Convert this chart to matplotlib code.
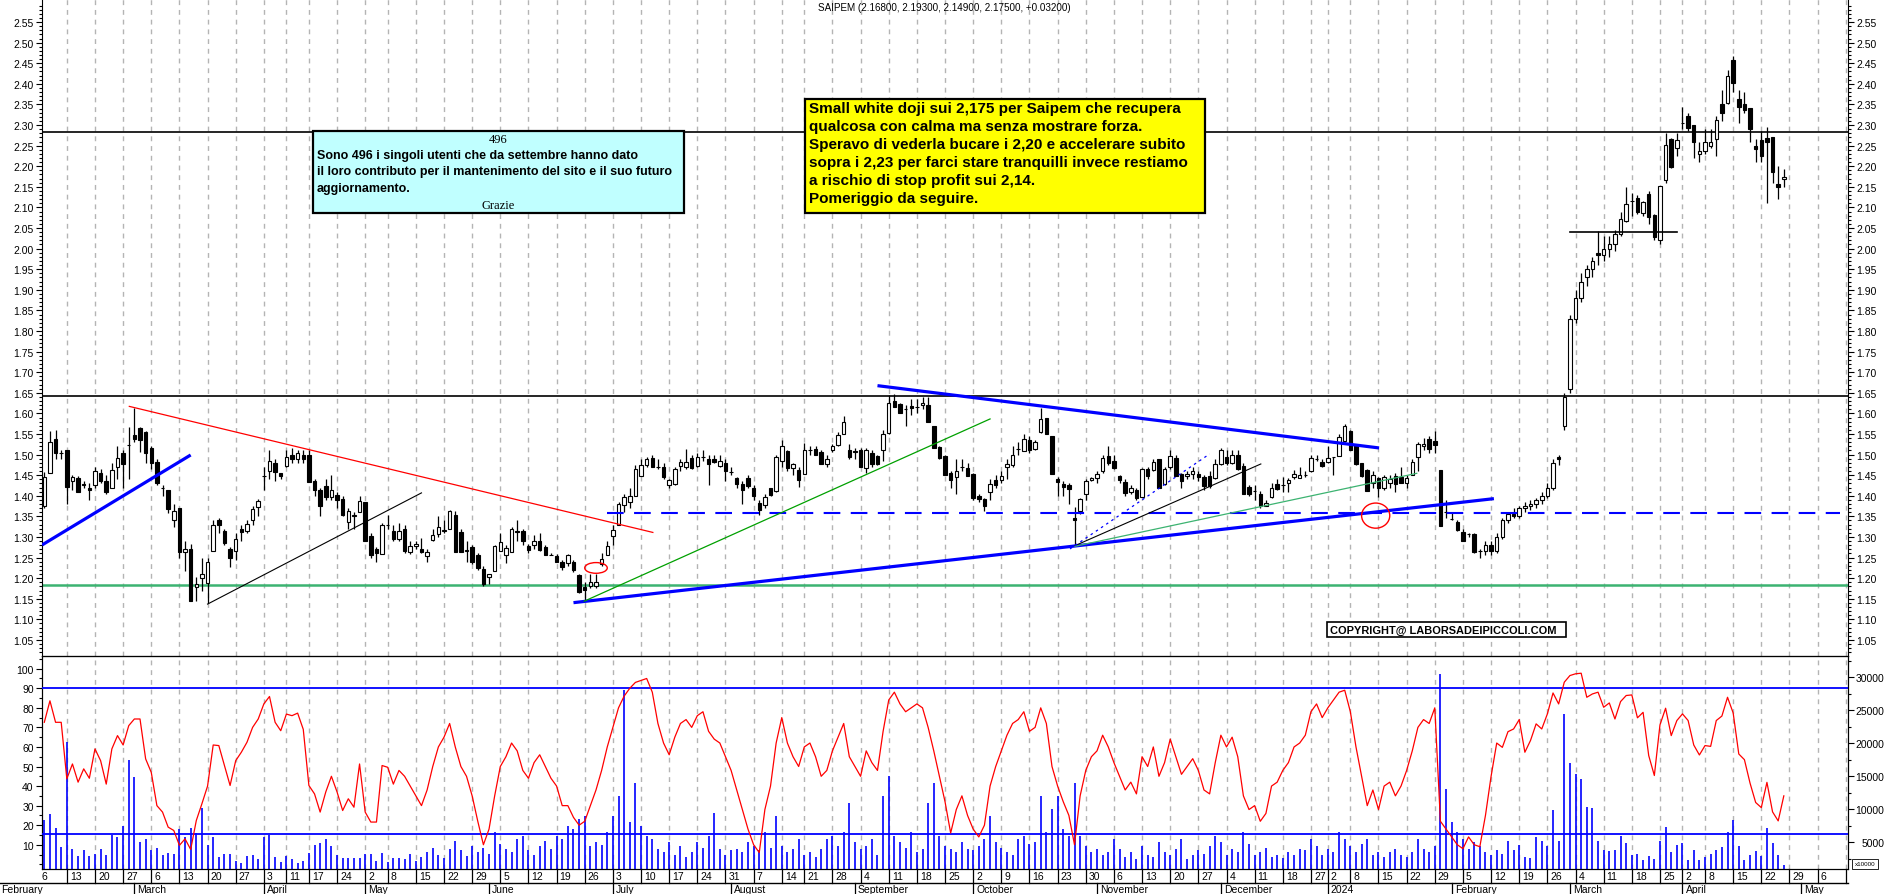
import numpy as np
import matplotlib
matplotlib.use("Agg")
import matplotlib.pyplot as plt
import matplotlib.transforms as mtrans
from matplotlib.patches import Ellipse, Rectangle
from matplotlib.lines import Line2D

W, H = 1890, 895
plt.rcParams["font.family"] = ["Liberation Sans", "DejaVu Sans"]

# --- calendario di borsa (chiusure infrasettimanali) ---
holidays = ["2023-04-07", "2023-04-10", "2023-05-01", "2023-08-15",
            "2023-12-25", "2023-12-26", "2024-01-01", "2024-03-29", "2024-04-01"]
first_day = "2023-02-07"
last_day = "2024-04-26"

# --- SAIPEM, candele giornaliere ---
opens = [
    1.376, 1.455, 1.538, 1.505, 1.511, 1.437, 1.443, 1.428, 1.420, 1.425,
    1.455, 1.437, 1.420, 1.469, 1.504, 1.523, 1.548, 1.565, 1.556, 1.516,
    1.481, 1.420, 1.414, 1.340, 1.370, 1.263, 1.271, 1.178, 1.200, 1.188,
    1.267, 1.342, 1.314, 1.271, 1.267, 1.319, 1.315, 1.340, 1.372, 1.447,
    1.461, 1.479, 1.455, 1.473, 1.500, 1.489, 1.500, 1.500, 1.435, 1.414,
    1.423, 1.396, 1.402, 1.392, 1.336, 1.352, 1.360, 1.384, 1.303, 1.270,
    1.259, 1.328, 1.314, 1.295, 1.319, 1.263, 1.279, 1.270, 1.253, 1.293,
    1.306, 1.315, 1.319, 1.354, 1.311, 1.267, 1.275, 1.255, 1.222, 1.202,
    1.218, 1.267, 1.255, 1.264, 1.315, 1.314, 1.279, 1.281, 1.290, 1.275,
    1.257, 1.253, 1.239, 1.236, 1.239, 1.208, 1.178, 1.180, 1.180, 1.235,
    1.257, 1.303, 1.330, 1.378, 1.384, 1.399, 1.447, 1.475, 1.492, 1.469,
    1.471, 1.425, 1.429, 1.472, 1.469, 1.492, 1.473, 1.493, 1.490, 1.490,
    1.472, 1.479, 1.457, 1.442, 1.429, 1.442, 1.420, 1.382, 1.378, 1.420,
    1.411, 1.485, 1.508, 1.468, 1.463, 1.453, 1.511, 1.513, 1.507, 1.476,
    1.512, 1.523, 1.550, 1.510, 1.509, 1.512, 1.467, 1.504, 1.496, 1.510,
    1.552, 1.629, 1.623, 1.611, 1.617, 1.616, 1.620, 1.621, 1.569, 1.518,
    1.496, 1.455, 1.445, 1.471, 1.467, 1.453, 1.400, 1.392, 1.408, 1.438,
    1.438, 1.469, 1.475, 1.514, 1.508, 1.536, 1.514, 1.554, 1.589, 1.546,
    1.441, 1.429, 1.425, 1.345, 1.364, 1.404, 1.438, 1.442, 1.460, 1.497,
    1.485, 1.447, 1.433, 1.410, 1.414, 1.396, 1.465, 1.463, 1.489, 1.429,
    1.469, 1.491, 1.452, 1.447, 1.452, 1.453, 1.445, 1.449, 1.442, 1.477,
    1.495, 1.480, 1.500, 1.473, 1.422, 1.412, 1.404, 1.376, 1.398, 1.429,
    1.425, 1.430, 1.445, 1.442, 1.450, 1.459, 1.489, 1.481, 1.481, 1.493,
    1.497, 1.534, 1.558, 1.523, 1.479, 1.463, 1.431, 1.443, 1.420, 1.431,
    1.449, 1.445, 1.431, 1.450, 1.493, 1.522, 1.538, 1.532, 1.463, 1.360,
    1.344, 1.336, 1.313, 1.307, 1.307, 1.267, 1.267, 1.280, 1.265, 1.300,
    1.340, 1.355, 1.350, 1.370, 1.375, 1.380, 1.390, 1.400, 1.420, 1.495,
    1.570, 1.660, 1.830, 1.880, 1.930, 1.950, 1.990, 1.985, 2.000, 2.010,
    2.035, 2.068, 2.115, 2.124, 2.086, 2.132, 2.081, 2.020, 2.166, 2.267,
    2.244, 2.306, 2.323, 2.300, 2.230, 2.238, 2.248, 2.266, 2.350, 2.353,
    2.458, 2.363, 2.352, 2.341, 2.250, 2.264, 2.268, 2.272, 2.157, 2.168,
]
highs = [
    1.457, 1.558, 1.560, 1.510, 1.511, 1.450, 1.447, 1.435, 1.430, 1.470,
    1.465, 1.450, 1.480, 1.520, 1.510, 1.568, 1.614, 1.568, 1.558, 1.520,
    1.490, 1.425, 1.414, 1.380, 1.370, 1.290, 1.283, 1.203, 1.250, 1.250,
    1.340, 1.345, 1.320, 1.276, 1.310, 1.330, 1.342, 1.375, 1.392, 1.470,
    1.510, 1.490, 1.455, 1.510, 1.515, 1.510, 1.510, 1.510, 1.440, 1.420,
    1.440, 1.450, 1.410, 1.400, 1.370, 1.360, 1.400, 1.384, 1.310, 1.275,
    1.335, 1.353, 1.330, 1.335, 1.330, 1.290, 1.290, 1.297, 1.270, 1.320,
    1.350, 1.340, 1.365, 1.362, 1.320, 1.290, 1.280, 1.260, 1.230, 1.210,
    1.280, 1.310, 1.280, 1.325, 1.340, 1.320, 1.283, 1.305, 1.310, 1.280,
    1.260, 1.258, 1.245, 1.258, 1.245, 1.210, 1.190, 1.210, 1.210, 1.260,
    1.290, 1.330, 1.385, 1.405, 1.420, 1.475, 1.490, 1.495, 1.500, 1.490,
    1.480, 1.440, 1.470, 1.490, 1.513, 1.500, 1.505, 1.510, 1.500, 1.500,
    1.500, 1.490, 1.470, 1.445, 1.435, 1.450, 1.425, 1.390, 1.405, 1.420,
    1.500, 1.535, 1.510, 1.480, 1.470, 1.527, 1.520, 1.520, 1.510, 1.500,
    1.525, 1.555, 1.593, 1.525, 1.515, 1.515, 1.515, 1.510, 1.500, 1.560,
    1.645, 1.646, 1.625, 1.620, 1.635, 1.635, 1.640, 1.640, 1.570, 1.520,
    1.500, 1.460, 1.490, 1.490, 1.480, 1.455, 1.405, 1.395, 1.440, 1.450,
    1.460, 1.490, 1.520, 1.530, 1.550, 1.545, 1.535, 1.614, 1.590, 1.546,
    1.445, 1.435, 1.430, 1.372, 1.395, 1.440, 1.445, 1.460, 1.500, 1.520,
    1.500, 1.450, 1.440, 1.425, 1.420, 1.468, 1.470, 1.490, 1.490, 1.470,
    1.510, 1.500, 1.455, 1.460, 1.470, 1.460, 1.450, 1.460, 1.490, 1.515,
    1.510, 1.510, 1.510, 1.480, 1.425, 1.425, 1.412, 1.390, 1.430, 1.440,
    1.445, 1.442, 1.462, 1.470, 1.460, 1.500, 1.500, 1.490, 1.520, 1.495,
    1.550, 1.575, 1.560, 1.525, 1.480, 1.465, 1.460, 1.445, 1.450, 1.450,
    1.455, 1.470, 1.450, 1.490, 1.530, 1.540, 1.545, 1.558, 1.463, 1.390,
    1.360, 1.340, 1.320, 1.310, 1.310, 1.270, 1.290, 1.290, 1.310, 1.345,
    1.360, 1.370, 1.375, 1.385, 1.390, 1.395, 1.410, 1.430, 1.490, 1.500,
    1.650, 1.840, 1.900, 1.940, 1.960, 1.980, 2.043, 2.030, 2.030, 2.045,
    2.088, 2.150, 2.134, 2.130, 2.115, 2.140, 2.085, 2.153, 2.280, 2.268,
    2.280, 2.345, 2.330, 2.300, 2.260, 2.290, 2.290, 2.322, 2.384, 2.433,
    2.467, 2.385, 2.380, 2.342, 2.265, 2.285, 2.295, 2.272, 2.200, 2.193,
]
lows = [
    1.370, 1.455, 1.490, 1.490, 1.380, 1.415, 1.410, 1.420, 1.390, 1.420,
    1.430, 1.405, 1.420, 1.440, 1.420, 1.440, 1.530, 1.507, 1.480, 1.465,
    1.425, 1.400, 1.358, 1.323, 1.250, 1.218, 1.145, 1.145, 1.170, 1.140,
    1.267, 1.310, 1.280, 1.228, 1.244, 1.290, 1.310, 1.330, 1.350, 1.415,
    1.440, 1.437, 1.440, 1.470, 1.480, 1.480, 1.480, 1.433, 1.400, 1.350,
    1.390, 1.390, 1.370, 1.350, 1.320, 1.320, 1.360, 1.289, 1.250, 1.240,
    1.259, 1.320, 1.290, 1.290, 1.260, 1.258, 1.270, 1.260, 1.240, 1.290,
    1.300, 1.310, 1.319, 1.263, 1.263, 1.240, 1.235, 1.220, 1.180, 1.185,
    1.218, 1.267, 1.237, 1.264, 1.290, 1.280, 1.262, 1.270, 1.265, 1.255,
    1.255, 1.238, 1.220, 1.230, 1.215, 1.165, 1.145, 1.175, 1.175, 1.230,
    1.255, 1.280, 1.330, 1.360, 1.370, 1.399, 1.447, 1.470, 1.470, 1.465,
    1.440, 1.420, 1.425, 1.460, 1.465, 1.465, 1.470, 1.485, 1.425, 1.480,
    1.470, 1.437, 1.450, 1.420, 1.380, 1.420, 1.390, 1.353, 1.370, 1.400,
    1.410, 1.470, 1.460, 1.450, 1.422, 1.453, 1.500, 1.498, 1.477, 1.470,
    1.507, 1.520, 1.550, 1.490, 1.490, 1.470, 1.455, 1.470, 1.475, 1.485,
    1.550, 1.615, 1.600, 1.570, 1.595, 1.600, 1.610, 1.578, 1.515, 1.490,
    1.450, 1.420, 1.405, 1.460, 1.448, 1.390, 1.385, 1.362, 1.390, 1.420,
    1.430, 1.440, 1.470, 1.500, 1.508, 1.505, 1.510, 1.552, 1.549, 1.454,
    1.400, 1.400, 1.380, 1.280, 1.356, 1.390, 1.435, 1.430, 1.455, 1.475,
    1.465, 1.430, 1.400, 1.405, 1.390, 1.396, 1.440, 1.460, 1.420, 1.425,
    1.465, 1.449, 1.420, 1.440, 1.440, 1.435, 1.415, 1.420, 1.440, 1.475,
    1.475, 1.478, 1.463, 1.404, 1.400, 1.390, 1.370, 1.375, 1.395, 1.415,
    1.410, 1.410, 1.440, 1.442, 1.445, 1.457, 1.485, 1.470, 1.480, 1.450,
    1.497, 1.530, 1.510, 1.475, 1.445, 1.412, 1.420, 1.397, 1.415, 1.420,
    1.410, 1.430, 1.420, 1.450, 1.460, 1.510, 1.505, 1.505, 1.327, 1.345,
    1.340, 1.315, 1.290, 1.300, 1.260, 1.250, 1.255, 1.255, 1.260, 1.295,
    1.335, 1.345, 1.345, 1.360, 1.365, 1.370, 1.380, 1.395, 1.415, 1.475,
    1.560, 1.650, 1.820, 1.870, 1.910, 1.930, 1.960, 1.970, 1.980, 1.995,
    2.030, 2.065, 2.080, 2.085, 2.080, 2.060, 2.020, 2.010, 2.160, 2.195,
    2.225, 2.290, 2.285, 2.220, 2.210, 2.230, 2.245, 2.225, 2.310, 2.350,
    2.380, 2.305, 2.330, 2.260, 2.210, 2.210, 2.110, 2.160, 2.120, 2.149,
]
closes = [
    1.445, 1.530, 1.504, 1.503, 1.421, 1.445, 1.410, 1.425, 1.415, 1.460,
    1.437, 1.408, 1.463, 1.491, 1.477, 1.524, 1.538, 1.536, 1.505, 1.480,
    1.431, 1.418, 1.368, 1.362, 1.263, 1.271, 1.145, 1.186, 1.209, 1.238,
    1.330, 1.330, 1.285, 1.248, 1.295, 1.313, 1.332, 1.368, 1.387, 1.447,
    1.484, 1.457, 1.447, 1.495, 1.490, 1.503, 1.489, 1.433, 1.413, 1.376,
    1.398, 1.414, 1.390, 1.354, 1.364, 1.353, 1.388, 1.289, 1.255, 1.260,
    1.328, 1.329, 1.295, 1.315, 1.267, 1.279, 1.282, 1.263, 1.263, 1.305,
    1.323, 1.316, 1.362, 1.263, 1.263, 1.268, 1.239, 1.224, 1.186, 1.210,
    1.277, 1.287, 1.273, 1.319, 1.311, 1.289, 1.269, 1.291, 1.269, 1.256,
    1.257, 1.240, 1.226, 1.255, 1.220, 1.167, 1.171, 1.190, 1.190, 1.247,
    1.278, 1.318, 1.380, 1.396, 1.400, 1.465, 1.475, 1.490, 1.471, 1.469,
    1.445, 1.438, 1.465, 1.482, 1.483, 1.467, 1.495, 1.493, 1.477, 1.483,
    1.484, 1.459, 1.457, 1.429, 1.413, 1.423, 1.400, 1.366, 1.398, 1.403,
    1.495, 1.522, 1.468, 1.476, 1.439, 1.511, 1.511, 1.500, 1.477, 1.489,
    1.520, 1.548, 1.580, 1.493, 1.507, 1.471, 1.510, 1.477, 1.477, 1.550,
    1.625, 1.616, 1.600, 1.611, 1.612, 1.616, 1.624, 1.578, 1.515, 1.491,
    1.450, 1.438, 1.459, 1.471, 1.449, 1.395, 1.392, 1.374, 1.428, 1.425,
    1.447, 1.477, 1.499, 1.514, 1.538, 1.511, 1.531, 1.586, 1.549, 1.454,
    1.433, 1.421, 1.417, 1.340, 1.392, 1.435, 1.442, 1.453, 1.491, 1.479,
    1.467, 1.439, 1.406, 1.420, 1.394, 1.465, 1.449, 1.481, 1.420, 1.465,
    1.497, 1.449, 1.435, 1.453, 1.459, 1.445, 1.423, 1.423, 1.477, 1.511,
    1.479, 1.500, 1.465, 1.404, 1.404, 1.412, 1.376, 1.383, 1.420, 1.417,
    1.425, 1.439, 1.453, 1.450, 1.450, 1.491, 1.489, 1.473, 1.491, 1.493,
    1.542, 1.570, 1.511, 1.476, 1.449, 1.412, 1.450, 1.420, 1.445, 1.441,
    1.429, 1.431, 1.443, 1.481, 1.525, 1.526, 1.514, 1.523, 1.327, 1.360,
    1.344, 1.317, 1.291, 1.307, 1.264, 1.267, 1.280, 1.265, 1.300, 1.340,
    1.355, 1.350, 1.370, 1.375, 1.380, 1.390, 1.400, 1.420, 1.480, 1.490,
    1.640, 1.830, 1.880, 1.920, 1.950, 1.970, 1.985, 2.000, 2.010, 2.035,
    2.072, 2.108, 2.115, 2.090, 2.112, 2.076, 2.027, 2.151, 2.251, 2.197,
    2.264, 2.306, 2.294, 2.258, 2.236, 2.258, 2.258, 2.313, 2.329, 2.418,
    2.401, 2.345, 2.337, 2.290, 2.243, 2.226, 2.260, 2.185, 2.149, 2.175,
]

# --- pannello inferiore: oscillatore (0-100) e volumi (x10000) ---
osc = [
    72.6, 83.6, 72.6, 72.6, 43.7, 51.3, 42.0, 48.8, 44.0, 59.0,
    53.0, 41.0, 59.0, 65.8, 61.0, 70.9, 74.3, 74.3, 53.9, 47.0,
    30.0, 26.7, 19.0, 17.3, 9.7, 13.0, 7.6, 22.4, 31.0, 40.0,
    61.0, 60.7, 50.5, 40.3, 53.0, 57.3, 62.4, 70.0, 74.3, 82.0,
    85.8, 72.6, 68.3, 76.8, 76.0, 77.3, 69.0, 40.3, 36.0, 26.7,
    37.0, 45.0, 37.0, 27.5, 33.5, 29.2, 51.3, 26.7, 21.6, 21.6,
    50.5, 49.6, 41.0, 48.0, 45.0, 40.0, 35.0, 30.0, 38.0, 50.0,
    60.0, 65.0, 72.0, 60.0, 50.0, 45.0, 35.0, 22.0, 10.0, 18.0,
    35.0, 50.0, 55.0, 62.0, 58.0, 48.0, 44.0, 52.0, 56.0, 50.0,
    44.0, 40.0, 30.0, 30.0, 24.0, 20.0, 22.0, 30.0, 38.0, 48.0,
    60.0, 70.0, 80.0, 86.0, 90.0, 93.0, 94.0, 95.0, 88.0, 72.0,
    62.0, 56.0, 65.0, 72.0, 74.0, 70.0, 76.0, 78.0, 68.0, 64.0,
    62.0, 55.0, 48.0, 38.0, 28.0, 18.0, 10.0, 6.0, 28.0, 40.0,
    62.0, 75.0, 62.0, 55.0, 50.0, 60.0, 62.0, 55.0, 45.0, 48.0,
    58.0, 65.0, 72.0, 55.0, 50.0, 45.0, 58.0, 52.0, 48.0, 68.0,
    84.0, 88.0, 82.0, 78.0, 80.0, 82.0, 80.0, 70.0, 58.0, 45.0,
    32.0, 16.0, 28.0, 35.0, 25.0, 18.0, 14.0, 20.0, 40.0, 50.0,
    58.0, 66.0, 72.0, 74.0, 78.0, 68.0, 70.0, 80.0, 72.0, 50.0,
    40.0, 32.0, 25.0, 10.0, 35.0, 48.0, 55.0, 58.0, 66.0, 60.0,
    52.0, 45.0, 38.0, 42.0, 36.0, 55.0, 50.0, 60.0, 45.0, 52.0,
    64.0, 55.0, 46.0, 50.0, 54.0, 48.0, 38.0, 36.0, 52.0, 66.0,
    60.0, 65.0, 55.0, 35.0, 28.0, 30.0, 22.0, 26.0, 40.0, 42.0,
    48.0, 52.0, 60.0, 62.0, 66.0, 78.0, 82.0, 75.0, 80.0, 84.0,
    88.0, 89.0, 78.0, 60.0, 45.0, 30.0, 38.0, 28.0, 40.0, 42.0,
    35.0, 40.0, 48.0, 58.0, 70.0, 74.0, 72.0, 80.0, 22.0, 18.0,
    14.0, 10.0, 8.0, 14.0, 10.0, 9.0, 25.0, 45.0, 62.0, 59.8,
    67.8, 69.2, 74.0, 57.3, 63.3, 71.8, 69.2, 76.9, 87.6, 82.0,
    93.1, 96.5, 97.4, 97.7, 85.4, 87.1, 88.0, 80.3, 82.5, 74.3,
    83.2, 86.3, 86.6, 74.9, 77.7, 55.6, 45.4, 71.3, 79.8, 65.8,
    73.5, 76.9, 73.5, 61.0, 55.9, 60.7, 60.3, 73.5, 75.8, 85.4,
    77.4, 56.4, 53.5, 41.5, 31.6, 29.0, 41.9, 26.8, 22.2, 35.0,
]
volume = [
    8380, 9290, 7170, 4330, 20240, 3980, 2970, 3880, 2970, 3230,
    3980, 3070, 6150, 5850, 7510, 17470, 14940, 5090, 5500, 3880,
    4130, 3070, 3380, 3230, 7010, 5850, 7170, 6410, 10200, 4640,
    5850, 2820, 3230, 3230, 2210, 1860, 2970, 3070, 2470, 5760,
    6150, 2820, 2060, 2970, 2470, 1860, 2210, 3380, 4640, 4890,
    5500, 4490, 3070, 2670, 2620, 2670, 2620, 3230, 3230, 2210,
    3380, 2060, 2670, 2620, 2500, 3200, 2200, 2800, 3500, 4200,
    3000, 2600, 4000, 5200, 3800, 2900, 4500, 3600, 4200, 3300,
    6500, 4800, 4000, 3500, 5500, 6000, 3800, 3000, 4500, 5200,
    4000, 6000, 5500, 7500, 7000, 8500, 9000, 4500, 5000, 4600,
    6500, 9000, 12000, 28000, 8000, 14000, 7500, 6000, 5500, 4000,
    3500, 5000, 3000, 4500, 2800, 3500, 5000, 4200, 6000, 9500,
    4000, 3000, 3800, 4000, 3500, 5000, 4500, 3800, 6500, 4200,
    9000, 4500, 3500, 4000, 5500, 3000, 3500, 2800, 4000, 5500,
    6000, 4500, 6500, 11000, 5000, 4000, 4500, 5500, 3000, 12000,
    15000, 6000, 5000, 4200, 6500, 3500, 4000, 11000, 14000, 6000,
    4500, 4000, 3500, 5000, 4000, 3800, 4500, 5500, 9000, 5000,
    4200, 3500, 3000, 5500, 6000, 4800, 5000, 12000, 6500, 10000,
    12000, 7000, 6000, 14000, 6000, 4500, 3500, 4000, 3000, 3500,
    5500, 4000, 2800, 3500, 2500, 4500, 3000, 2800, 5000, 3500,
    3000, 4000, 5500, 2500, 3000, 3800, 3200, 4500, 6000, 5000,
    3000, 4000, 3500, 6500, 4800, 3000, 3500, 4200, 2800, 3000,
    2600, 3500, 3000, 4000, 3800, 5500, 4500, 3000, 4000, 3500,
    6500, 5500, 4500, 3500, 4800, 5500, 3000, 3500, 2800, 3500,
    4000, 3000, 2800, 3500, 5500, 4000, 3500, 4500, 30500, 13000,
    8000, 6500, 5500, 4000, 5000, 4500, 3500, 3000, 3800, 3230,
    5250, 3880, 4590, 2820, 2620, 5850, 5250, 4490, 9940, 5250,
    24440, 17020, 15350, 14600, 10400, 10200, 5250, 3880, 3730, 3880,
    6010, 4890, 3070, 3230, 2370, 2970, 2470, 5250, 7370, 3580,
    4590, 4890, 2320, 3880, 2320, 2720, 3230, 3880, 4240, 6610,
    8430, 4390, 2320, 3070, 3730, 2970, 7170, 4890, 3070, 1500,
]

# --- disegni dell'analista: (x0, y0, x1, y1) in indice candela / prezzo ---
blue_thick = [(-0.4, 1.2806, 26.0, 1.499), (94.0, 1.1405, 257.5, 1.393),
              (148.0, 1.6673, 237.1, 1.5161)]
red_trend = (15.1, 1.617, 108.1, 1.311)
black_thin = [(29.0, 1.137, 67.0, 1.407), (183.1, 1.279, 216.1, 1.4772)]
green_dark = (95.9, 1.144, 168.0, 1.5865)
green_light = (183.1, 1.2774, 243.8, 1.4545)
blue_dotted = (182.2, 1.271, 207.0, 1.5015)
res_204 = (271.0, 2.0395, 290.0, 2.0395)
dash_level = (100.0, 319.0, 1.3575)
green_level = 1.1835
black_levels = [2.282, 1.643]
red_circles = [(98.0, 1.2248, 4.0, 0.026), (236.5, 1.3518, 5.0, 0.061)]

title = "SAIPEM (2.16800, 2.19300, 2.14900, 2.17500, +0.03200)"
note_lines = [
    "Small white doji sui 2,175 per Saipem che recupera",
    "qualcosa con calma ma senza mostrare forza.",
    "Speravo di vederla bucare i 2,20 e accelerare subito",
    "sopra i 2,23 per farci stare tranquilli invece restiamo",
    "a rischio di stop profit sui 2,14.",
    "Pomeriggio da seguire.",
]
thanks_lines = [
    "Sono 496 i singoli utenti che da settembre hanno dato",
    "il loro contributo per il mantenimento del sito e il suo futuro",
    "aggiornamento.",
]

# ---------------------------------------------------------------------------
past = np.arange(np.datetime64("2023-02-01"), np.datetime64(last_day) + 1)
past = past[np.is_busday(past, holidays=holidays)]
future = np.arange(np.datetime64(last_day) + 1, np.datetime64("2024-05-20"))
future = future[np.is_busday(future)]
days = np.concatenate([past, future])
pos = np.arange(len(days)) - int(np.where(days == np.datetime64(first_day))[0][0])

dnum = days.astype("int64")
monday = dnum - (dnum + 3) % 7
week_start = np.r_[True, monday[1:] != monday[:-1]]
months = days.astype("datetime64[M]")
month_start = np.r_[True, months[1:] != months[:-1]]

XMIN, XMAX = -0.41, 320.4
O, Hh, L, C = map(np.array, (opens, highs, lows, closes))
xi = np.arange(len(C))


def fpx(x, y):
    return x / W, 1 - y / H


fig = plt.figure(figsize=(W / 100, H / 100), dpi=100)
fig.patch.set_facecolor("white")
ax = fig.add_axes([42 / W, 1 - 657 / H, 1806 / W, 657 / H])
ax2 = fig.add_axes([42 / W, 1 - 870 / H, 1806 / W, 213 / H])
ax3 = ax2.twinx()
ax2.set_zorder(ax3.get_zorder() + 1)
ax2.patch.set_visible(False)

grid_kw = dict(color="#b4b4b4", lw=1.0, ls=(0, (3.5, 3.5)), zorder=0)
for a in (ax, ax3):
    for p in pos[week_start]:
        if XMIN < p < XMAX:
            a.axvline(p, **grid_kw)

# --- prezzo ---
ax.set_xlim(XMIN, XMAX)
ax.set_ylim(1.011, 2.606)
for yv in black_levels:
    ax.axhline(yv, color="black", lw=1.2, zorder=2)
ax.axhline(green_level, color="#3cb371", lw=1.8, zorder=2)
ax.plot(dash_level[:2], [dash_level[2]] * 2, color="blue", lw=1.5,
        ls=(0, (8, 5)), zorder=4)

ax.vlines(xi, L, Hh, color="black", lw=0.9, zorder=3)
up = C >= O
ax.bar(xi, np.abs(C - O), width=0.62, bottom=np.minimum(O, C),
       color=np.where(up, "white", "black"), edgecolor="black", lw=0.8, zorder=3)

for x0, y0, x1, y1 in blue_thick:
    ax.plot([x0, x1], [y0, y1], color="blue", lw=2.3, zorder=5, solid_capstyle="butt")
ax.plot(red_trend[::2], red_trend[1::2], color="red", lw=0.9, zorder=5)
for x0, y0, x1, y1 in black_thin:
    ax.plot([x0, x1], [y0, y1], color="black", lw=0.8, zorder=5)
ax.plot(green_dark[::2], green_dark[1::2], color="#00a000", lw=0.9, zorder=5)
ax.plot(green_light[::2], green_light[1::2], color="#3cb371", lw=0.9, zorder=5)
ax.plot(blue_dotted[::2], blue_dotted[1::2], color="blue", lw=0.9, ls=(0, (2, 3)), zorder=5)
ax.plot(res_204[::2], res_204[1::2], color="black", lw=1.2, zorder=5)
for cx, cy, w, h in red_circles:
    ax.add_patch(Ellipse((cx, cy), w, h, fill=False, edgecolor="red", lw=1.0, zorder=6))

ax.set_yticks(np.round(np.arange(1.05, 2.551, 0.05), 2))
ax.set_yticks(np.round(np.arange(1.02, 2.60, 0.01), 2), minor=True)
ax.yaxis.set_major_formatter(matplotlib.ticker.FormatStrFormatter("%.2f"))
ax.tick_params(axis="y", which="both", left=True, right=True, labelleft=True,
               labelright=True, direction="out", labelsize=7.5, width=0.8)
ax.tick_params(axis="y", which="major", length=4, pad=2)
ax.tick_params(axis="y", which="minor", length=2)
ax.tick_params(axis="x", bottom=False, labelbottom=False)
ax.spines["top"].set_visible(False)

# --- indicatore ---
ax2.set_xlim(XMIN, XMAX)
ax3.set_xlim(XMIN, XMAX)
ax2.set_ylim(-2.4, 106.5)
ax3.set_ylim(955, 33220)
ax3.vlines(xi[:len(volume)], 0, volume, color="blue", lw=1.2, zorder=2)
ax2.axhline(90, color="blue", lw=1.3, zorder=3)
ax2.axhline(15.5, color="blue", lw=1.3, zorder=3)
ax2.plot(xi[:len(osc)], osc, color="red", lw=0.9, zorder=4)

ax2.set_yticks(np.arange(10, 101, 10))
ax2.set_yticks(np.arange(0, 106, 5), minor=True)
ax2.tick_params(axis="y", which="both", direction="out", labelsize=7.5, width=0.8)
ax2.tick_params(axis="y", which="major", length=4, pad=2)
ax2.tick_params(axis="y", which="minor", length=2)
ax3.set_yticks(np.arange(5000, 30001, 5000))
ax3.set_yticks(np.arange(2500, 33000, 2500), minor=True)
ax3.tick_params(axis="y", which="both", direction="out", labelsize=7.5, width=0.8)
ax3.tick_params(axis="y", which="major", length=4, pad=22)
ax3.tick_params(axis="y", which="minor", length=2)
for t in ax3.get_yticklabels():
    t.set_horizontalalignment("right")
for a in (ax2, ax3):
    a.tick_params(axis="x", bottom=False, labelbottom=False)

# --- asse date ---
xt = ax2.get_xaxis_transform()
lab_tr = mtrans.offset_copy(xt, fig=fig, x=3, y=0, units="dots")
for p, d, ws, ms in zip(pos, days, week_start, month_start):
    dd = d.astype(object)
    if ws and -1.5 < p < XMAX:
        if p > XMIN:
            ax2.plot([p, p], [0, -14 / 213], transform=xt, color="black", lw=0.9,
                     clip_on=False)
        if p < XMAX - 3:  # l'ultima settimana resta senza etichetta
            ax2.text(p, -7.5 / 213, str(dd.day), transform=lab_tr,
                     ha="left", va="center", fontsize=7.5, clip_on=False)
    if ms and p < XMAX:
        name = "2024" if (dd.month == 1 and dd.year == 2024) else dd.strftime("%B")
        if p < XMIN:
            # mese iniziale: a filo del bordo sinistro
            fig.text(*fpx(1, 890), name, ha="left", va="center", fontsize=7.5)
            continue
        ax2.plot([p, p], [-14 / 213, -25 / 213], transform=xt, color="black", lw=0.9,
                 clip_on=False)
        ax2.text(p, -20 / 213, name, transform=lab_tr, ha="left", va="center",
                 fontsize=7.5, clip_on=False)
fig.add_artist(Line2D([0, 1848 / W], [1 - 884 / H] * 2, color="black", lw=1.0))

# --- testi ---
fig.text(*fpx(818, 8), title, fontsize=7.1, va="center", ha="left")

fig.add_artist(Rectangle(fpx(313, 214), 371 / W, 82 / H, facecolor="#c0ffff",
                         edgecolor="black", lw=1.6))
fig.text(*fpx(498, 140), "496", fontsize=9, ha="center", va="center",
         family=["Liberation Serif", "DejaVu Serif"])
for k, s in enumerate(thanks_lines):
    fig.text(*fpx(317, 156 + 16.5 * k), s, fontsize=9.0, fontweight="bold",
             ha="left", va="center")
fig.text(*fpx(498, 206), "Grazie", fontsize=9, ha="center", va="center",
         family=["Liberation Serif", "DejaVu Serif"])

fig.add_artist(Rectangle(fpx(805, 214), 400 / W, 114 / H, facecolor="#ffff00",
                         edgecolor="black", lw=1.6))
for k, s in enumerate(note_lines):
    fig.text(*fpx(809, 109 + 18 * k), s, fontsize=11, fontweight="bold",
             ha="left", va="center")

fig.add_artist(Rectangle(fpx(1327, 638), 239 / W, 15 / H, facecolor="white",
                         edgecolor="black", lw=1.2))
fig.text(*fpx(1330, 630.5), "COPYRIGHT@ LABORSADEIPICCOLI.COM", fontsize=7.9,
         fontweight="bold", ha="left", va="center")

fig.add_artist(Rectangle(fpx(1852, 870), 26 / W, 10 / H, facecolor="white",
                         edgecolor="black", lw=0.6))
fig.text(*fpx(1865, 865), "x10000", fontsize=4.5, ha="center", va="center")

fig.savefig("out.png", dpi=100)
